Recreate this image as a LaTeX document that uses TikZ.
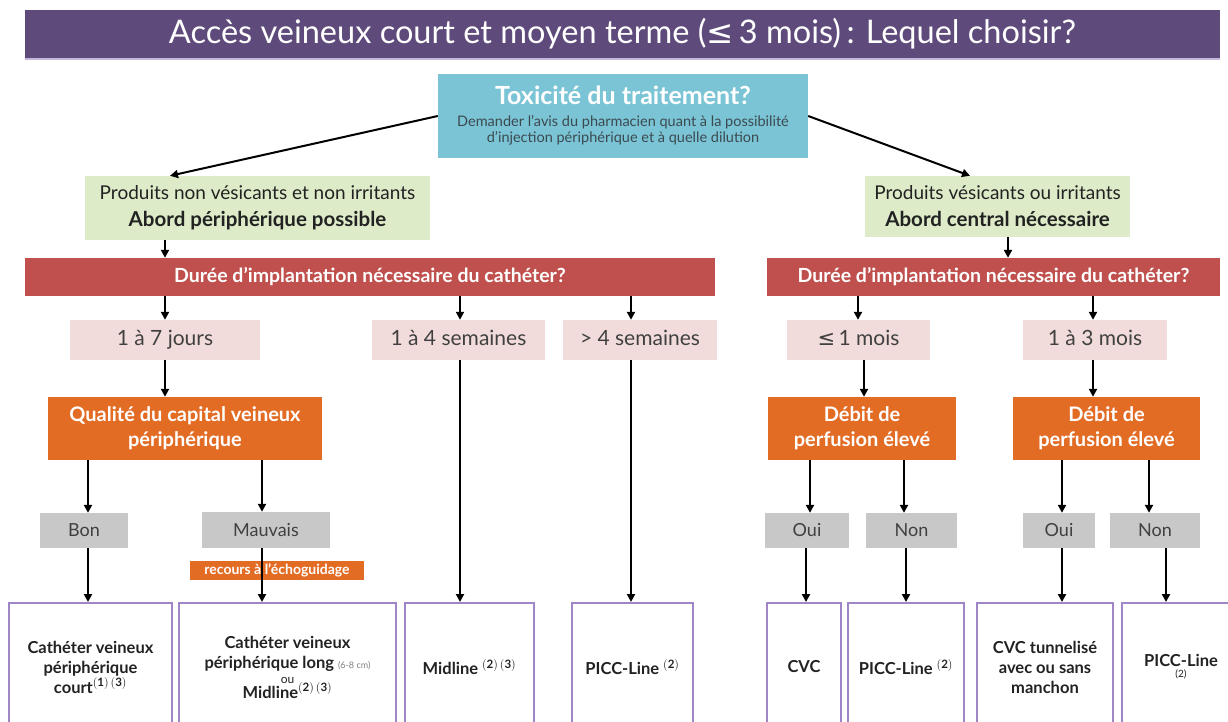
\documentclass[tikz,border=0pt]{standalone}
\usepackage{fontspec}
\setmainfont{Lato}
\newfontfamily\sym{DejaVu Sans}
\usetikzlibrary{arrows.meta}
\definecolor{titlepurple}{HTML}{5F4B7B}
\definecolor{toxblue}{HTML}{7AC4D5}
\definecolor{toxtext}{HTML}{3C4A50}
\definecolor{greenbox}{HTML}{DDEBC8}
\definecolor{redbar}{HTML}{C0504D}
\definecolor{pinkbox}{HTML}{F2DCDB}
\definecolor{orangebox}{HTML}{E36C25}
\definecolor{greybox}{HTML}{C8C8C8}
\definecolor{greytext}{HTML}{404040}
\definecolor{outline}{HTML}{9E86C8}
\definecolor{darktext}{HTML}{222222}
\tikzset{
  fbox/.style={rectangle, inner sep=0pt, align=center, draw=none},
  arr/.style={line width=2pt, draw=black, -{Triangle[length=8pt,width=8pt]}},
  endbox/.style={rectangle, inner sep=0pt, align=center, draw=outline, line width=2pt,
     minimum height=128, text=darktext, font=\fontsize{16.5}{20}\selectfont\bfseries},
  pinkst/.style={fbox, fill=pinkbox, minimum height=40, text=greytext, font=\fontsize{21}{24}\selectfont,
     text height=15pt, text depth=4pt},
  orangest/.style={fbox, fill=orangebox, minimum height=63, text=white, font=\fontsize{20}{25}\selectfont\bfseries},
  greyst/.style={fbox, fill=greybox, minimum height=35, text=greytext, font=\fontsize{18}{20}\selectfont},
  redst/.style={fbox, fill=redbar, minimum height=38, text=white, font=\fontsize{19.5}{22}\selectfont\bfseries},
  greenst/.style={fbox, fill=greenbox, text=darktext, font=\fontsize{19}{27}\selectfont}
}
\begin{document}
\begin{tikzpicture}[x=1pt,y=-1pt]
\useasboundingbox (0,0) rectangle (1228,722);
\clip (0,0) rectangle (1228,722);
\fill[white] (0,0) rectangle (1228,722);

% title
\fill[outline!60] (25,56) rectangle (1220,60);
\node[fbox, fill=titlepurple, minimum width=1195, minimum height=48, text=white,
      font=\fontsize{32.5}{34}\selectfont] (title) at (622.5,34)
      {Accès veineux court et moyen terme ({\sym ≤}\,3 mois)\,: Lequel choisir?};

% toxicity
\node[fbox, fill=toxblue, minimum width=370, minimum height=84, text=toxtext,
      font=\fontsize{14.5}{16.5}\selectfont] (tox) at (623,116)
  {\textcolor{white}{\fontsize{25}{28}\selectfont\bfseries Toxicité du traitement?}\\[5pt]
   Demander l’avis du pharmacien quant à la possibilité\\
   d’injection périphérique et à quelle dilution};

% green boxes
\node[greenst, minimum width=345, minimum height=64] (gL) at (257.5,208)
  {Produits non vésicants et non irritants\\\textbf{\fontsize{20.5}{24}\selectfont Abord périphérique possible}};
\node[greenst, minimum width=265, minimum height=61] (gR) at (997.5,206.5)
  {Produits vésicants ou irritants\\\textbf{\fontsize{20.5}{24}\selectfont Abord central nécessaire}};

% red bars
\node[redst, minimum width=690] (rL) at (370,277) {Durée d’implantation nécessaire du cathéter?};
\node[redst, minimum width=453] (rR) at (993.5,277) {Durée d’implantation nécessaire du cathéter?};

% pink boxes
\node[pinkst, minimum width=190] (p1) at (165,340) {1 à 7 jours};
\node[pinkst, minimum width=173] (p2) at (458.5,340) {1 à 4 semaines};
\node[pinkst, minimum width=154] (p3) at (640,340) {> 4 semaines};
\node[pinkst, minimum width=143] (p4) at (858.5,340) {{\sym ≤}\,1 mois};
\node[pinkst, minimum width=144] (p5) at (1095,340) {1 à 3 mois};

% orange boxes
\node[orangest, minimum width=274] (o1) at (185,428.5) {Qualité du capital veineux\\périphérique};
\node[orangest, minimum width=188] (o2) at (862,428.5) {Débit de\\perfusion élevé};
\node[orangest, minimum width=187] (o3) at (1106.5,428.5) {Débit de\\perfusion élevé};

% grey boxes
\node[greyst, minimum width=88] (g1) at (84,530.5) {Bon};
\node[greyst, minimum width=128, minimum height=36] (g2) at (266,530) {Mauvais};
\node[greyst, minimum width=84] (g3) at (807,530.5) {Oui};
\node[greyst, minimum width=91] (g4) at (911.5,530.5) {Non};
\node[greyst, minimum width=72] (g5) at (1059,530.5) {Oui};
\node[greyst, minimum width=90] (g6) at (1155,530.5) {Non};

% echoguidage label
\node[fbox, fill=orangebox, minimum width=174, minimum height=19, text=white,
      font=\fontsize{14}{15}\selectfont\bfseries] (ech) at (277,570.5) {recours à l’échoguidage};

% end boxes
\node[endbox, minimum width=163] (b1) at (90.5,667) {Cathéter veineux\\périphérique\\court$^{\mathbf{(1)\,(3)}}$};
\node[endbox, minimum width=217] (b2) at (287.5,667)
  {Cathéter veineux\\périphérique long \textcolor{gray}{\mdseries\fontsize{9}{10}\selectfont(6-8 cm)}\\[-5pt]
   \textmd{\fontsize{12}{12}\selectfont ou}\\[-5pt]Midline$^{\mathbf{(2)\,(3)}}$};
\node[endbox, minimum width=129] (b3) at (469.5,667) {Midline $^{\mathbf{(2)\,(3)}}$};
\node[endbox, minimum width=121] (b4) at (632.5,667) {PICC-Line $^{\mathbf{(2)}}$};
\node[endbox, minimum width=74] (b5) at (804,667) {CVC};
\node[endbox, minimum width=116] (b6) at (906,667) {PICC-Line $^{\mathbf{(2)}}$};
\node[endbox, minimum width=136] (b7) at (1045,667) {CVC tunnelisé\\avec ou sans\\manchon};
\node[endbox, minimum width=118] (b8) at (1181,667) {PICC-Line\\[-9pt]\textmd{\fontsize{10}{10}\selectfont(2)}};

% column coordinates
\foreach \c in {88,165,262,460,631,806,810,858,864,904,906,1008,1062,1093,1149,1166}
  \coordinate (c\c) at (\c,0);

% connectors
\draw[arr] (tox.west) -- ([xshift=-87.5pt]gL.north);
\draw[arr] (tox.east) -- ([xshift=-27.5pt]gR.north);
\draw[arr] (gL.south -| c165) -- (rL.north -| c165);
\draw[arr] (gR.south -| c1008) -- (rR.north -| c1008);
\draw[arr] (rL.south -| c165) -- (p1.north -| c165);
\draw[arr] (rL.south -| c460) -- (p2.north -| c460);
\draw[arr] (rL.south -| c631) -- (p3.north -| c631);
\draw[arr] (rR.south -| c858) -- (p4.north -| c858);
\draw[arr] (rR.south -| c1093) -- (p5.north -| c1093);
\draw[arr] (p1.south -| c165) -- (o1.north -| c165);
\draw[arr] (p2.south -| c460) -- (b3.north -| c460);
\draw[arr] (p3.south -| c631) -- (b4.north -| c631);
\draw[arr] (p4.south -| c864) -- (o2.north -| c864);
\draw[arr] (p5.south -| c1093) -- (o3.north -| c1093);
\draw[arr] (o1.south -| c88) -- (g1.north -| c88);
\draw[arr] (o1.south -| c262) -- (g2.north -| c262);
\draw[arr] (g1.south -| c88) -- (b1.north -| c88);
\draw[arr] (g2.south -| c262) -- (b2.north -| c262);
\draw[arr] (o2.south -| c810) -- (g3.north -| c810);
\draw[arr] (o2.south -| c904) -- (g4.north -| c904);
\draw[arr] (g3.south -| c806) -- (b5.north -| c806);
\draw[arr] (g4.south -| c906) -- (b6.north -| c906);
\draw[arr] (o3.south -| c1062) -- (g5.north -| c1062);
\draw[arr] (o3.south -| c1149) -- (g6.north -| c1149);
\draw[arr] (g5.south -| c1062) -- (b7.north -| c1062);
\draw[arr] (g6.south -| c1166) -- (b8.north -| c1166);
\end{tikzpicture}
\end{document}
